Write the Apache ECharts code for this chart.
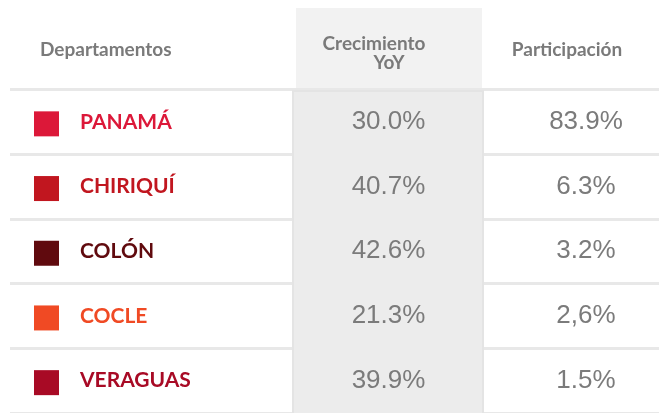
<!DOCTYPE html>
<html>
<head>
<meta charset="utf-8">
<script src="https://cdn.jsdelivr.net/npm/echarts@6/dist/echarts.min.js"></script>
<style>
  html, body { margin: 0; padding: 0; background: #fff; }
  #chart { width: 659px; height: 413px; }
</style>
</head>
<body>
<div id="chart"></div>
<script>
// datos de la tabla
const encabezados = ['Departamentos', 'Crecimiento', 'YoY', 'Participación'];
const departamentos = ['PANAMÁ', 'CHIRIQUÍ', 'COLÓN', 'COCLE', 'VERAGUAS'];
const colores = ['#dc1839', '#c1161f', '#600a0e', '#f04a24', '#a80a25'];
const crecimiento = [30.0, 40.7, 42.6, 21.3, 39.9];
const participacion = ['83.9%', '6.3%', '3.2%', '2,6%', '1.5%'];

// posiciones horizontales de las columnas (layout, en px)
const X_CUADRO = 46.5;
const X_YOY = 388.5;
const X_PART = 586;

const gris = '#7a7a7a';
const fuenteNum = '"Liberation Sans", Arial, sans-serif';
const fuenteTxt = 'Lato, "Open Sans", sans-serif';

const chart = echarts.init(document.getElementById('chart'), null, { renderer: 'canvas' });

const option = {
  backgroundColor: '#fff',
  animation: false,
  grid: { left: 10, right: 0, top: 89.5, height: 328 },
  xAxis: { type: 'value', min: 10, max: 659, show: false },
  yAxis: {
    type: 'category',
    inverse: true,
    data: departamentos,
    axisLine: { show: false },
    axisTick: { show: false },
    axisLabel: { show: false },
    splitLine: { show: true, lineStyle: { color: '#e8e8e8', width: 3 } }
  },
  graphic: [
    // fondo del encabezado de la columna YoY
    { type: 'rect', z: 1, shape: { x: 296, y: 8, width: 186, height: 80 }, style: { fill: '#f2f2f2' } },
    // fondo del cuerpo de la columna YoY
    { type: 'rect', z: 1, shape: { x: 293, y: 91, width: 190, height: 330 },
      style: { fill: '#ececec', stroke: '#e4e4e4', lineWidth: 2 } },
    { type: 'text', z: 3, x: 40, y: 50,
      style: { text: encabezados[0], fill: gris, font: 'bold 19px ' + fuenteTxt, verticalAlign: 'middle' } },
    { type: 'text', z: 3, x: 374, y: 43.5,
      style: { text: encabezados[1], fill: gris, font: 'bold 19px ' + fuenteTxt, align: 'center', verticalAlign: 'middle' } },
    { type: 'text', z: 3, x: 389, y: 63,
      style: { text: encabezados[2], fill: gris, font: 'bold 19px ' + fuenteTxt, align: 'center', verticalAlign: 'middle' } },
    { type: 'text', z: 3, x: 567, y: 50,
      style: { text: encabezados[3], fill: gris, font: 'bold 19px ' + fuenteTxt, align: 'center', verticalAlign: 'middle' } }
  ],
  series: [
    {
      name: 'Departamentos',
      type: 'scatter',
      z: 3,
      symbol: 'rect',
      symbolSize: 25,
      symbolOffset: [0, 2],
      itemStyle: { opacity: 1 },
      data: departamentos.map((d, i) => ({
        value: [X_CUADRO, d],
        itemStyle: { color: colores[i] },
        label: { color: colores[i] }
      })),
      label: {
        show: true,
        position: 'right',
        distance: 21,
        offset: [0, -2],
        formatter: p => departamentos[p.dataIndex],
        fontFamily: fuenteTxt,
        fontWeight: 'bold',
        fontSize: 21
      }
    },
    {
      name: 'Crecimiento YoY',
      type: 'scatter',
      z: 3,
      symbolSize: 0,
      itemStyle: { opacity: 1 },
      data: departamentos.map((d, i) => [X_YOY, d, crecimiento[i]]),
      label: {
        show: true,
        position: 'inside',
        formatter: p => crecimiento[p.dataIndex].toFixed(1) + '%',
        fontFamily: fuenteNum,
        fontSize: 26,
        color: '#7b7b7b'
      }
    },
    {
      name: 'Participación',
      type: 'scatter',
      z: 3,
      symbolSize: 0,
      itemStyle: { opacity: 1 },
      data: departamentos.map((d, i) => [X_PART, d]),
      label: {
        show: true,
        position: 'inside',
        formatter: p => participacion[p.dataIndex],
        fontFamily: fuenteNum,
        fontSize: 26,
        color: '#7b7b7b'
      }
    }
  ]
};

chart.setOption(option);
</script>
</body>
</html>
